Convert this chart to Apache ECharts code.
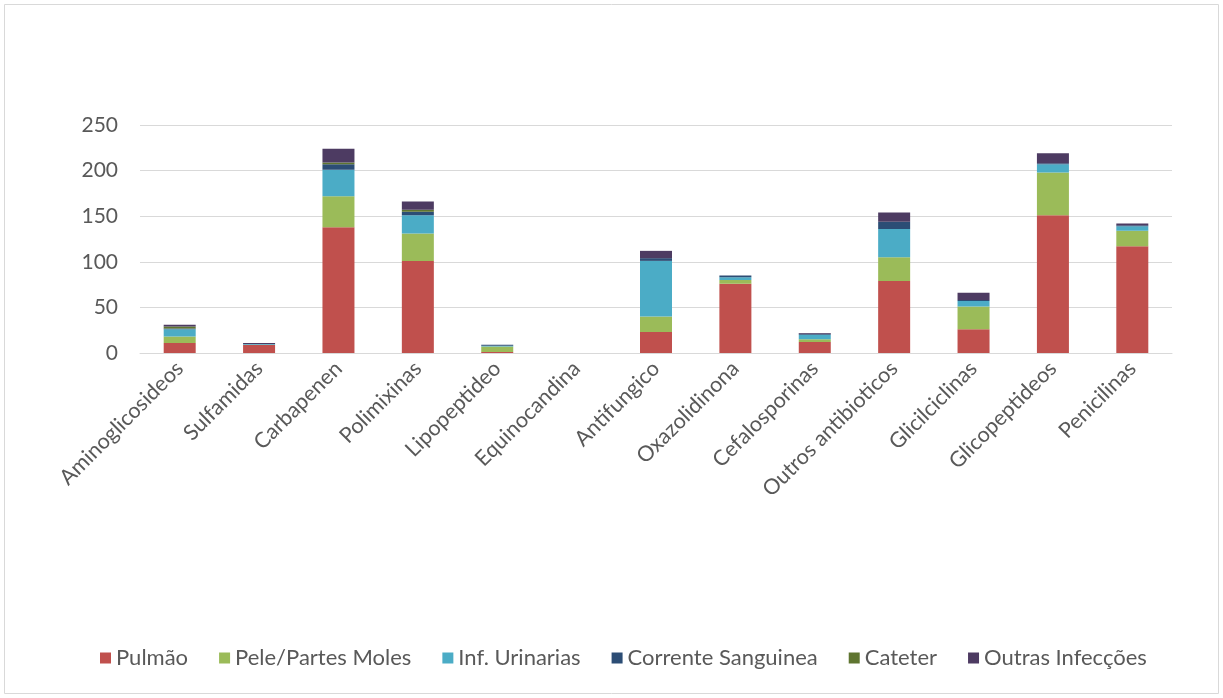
<!DOCTYPE html>
<html>
<head>
<meta charset="utf-8">
<script src="https://cdn.jsdelivr.net/npm/echarts@6/dist/echarts.min.js"></script>
<style>
  html, body { margin: 0; padding: 0; background: #ffffff; }
  #chart { width: 1223px; height: 698px; }
</style>
</head>
<body>
<div id="chart"></div>
<script>
// Antimicrobial use by infection site (stacked counts per drug class)
const categories = ['Aminoglicosideos', 'Sulfamidas', 'Carbapenen', 'Polimixinas', 'Lipopeptideo',
  'Equinocandina', 'Antifungico', 'Oxazolidinona', 'Cefalosporinas', 'Outros antibioticos',
  'Glicilciclinas', 'Glicopeptideos', 'Penicilinas'];

const pulmao     = [11, 9, 138, 101, 1, 0, 23, 76, 12, 79, 26, 151, 117];
const pelePartes = [7, 0, 34, 30, 6, 0, 17, 4, 3, 26, 25, 47, 17];
const urinarias  = [8, 1, 29, 20, 1, 0, 61, 3, 5, 31, 6, 9, 5];
const corrente   = [1, 0, 6, 4, 1, 0, 3, 2, 1, 8, 1, 1, 1];
const cateter    = [2, 0, 2, 2, 0, 0, 0, 0, 0, 0, 0, 0, 0];
const outras     = [2, 1, 15, 9, 0, 0, 8, 0, 1, 10, 8, 11, 2];

const seriesNames = ['Pulmão', 'Pele/Partes Moles', 'Inf. Urinarias', 'Corrente Sanguinea', 'Cateter', 'Outras Infecções'];
const seriesData = [pulmao, pelePartes, urinarias, corrente, cateter, outras];
const colors = ['#C0504D', '#9BBB59', '#4BACC6', '#2C4D75', '#5F7530', '#4D3B62'];

const yTicks = { min: 0, max: 250, interval: 50 };

const FONT = 'Lato';
const TEXT = '#595959';

const chart = echarts.init(document.getElementById('chart'), null, { renderer: 'canvas' });

chart.setOption({
  animation: false,
  color: colors,
  textStyle: { fontFamily: FONT },
  graphic: [{
    type: 'rect',
    shape: { x: 4.5, y: 4.5, width: 1214, height: 689 },
    style: { fill: 'none', stroke: '#d9d9d9', lineWidth: 1 },
    silent: true
  }],
  grid: { left: 140, right: 51, top: 125, bottom: 345, containLabel: false },
  legend: {
    bottom: 24,
    left: 95,
    itemWidth: 11,
    itemHeight: 11,
    itemGap: 31,
    icon: 'rect',
    textStyle: { color: TEXT, fontSize: 22, fontFamily: FONT },
    data: seriesNames
  },
  xAxis: {
    type: 'category',
    data: categories,
    axisLine: { show: true, lineStyle: { color: '#d9d9d9', width: 1 } },
    axisTick: { show: false },
    axisLabel: { rotate: 45, color: TEXT, fontSize: 21.5, fontFamily: FONT, margin: 12, interval: 0 }
  },
  yAxis: {
    type: 'value',
    min: yTicks.min,
    max: yTicks.max,
    interval: yTicks.interval,
    axisLine: { show: false },
    axisTick: { show: false },
    splitLine: { lineStyle: { color: '#d9d9d9', width: 1 } },
    axisLabel: { color: TEXT, fontSize: 21, fontFamily: FONT, margin: 22 }
  },
  series: seriesNames.map((name, i) => ({
    name: name,
    type: 'bar',
    stack: 'total',
    barWidth: 32,
    data: seriesData[i],
    itemStyle: { color: colors[i] }
  }))
});
</script>
</body>
</html>
